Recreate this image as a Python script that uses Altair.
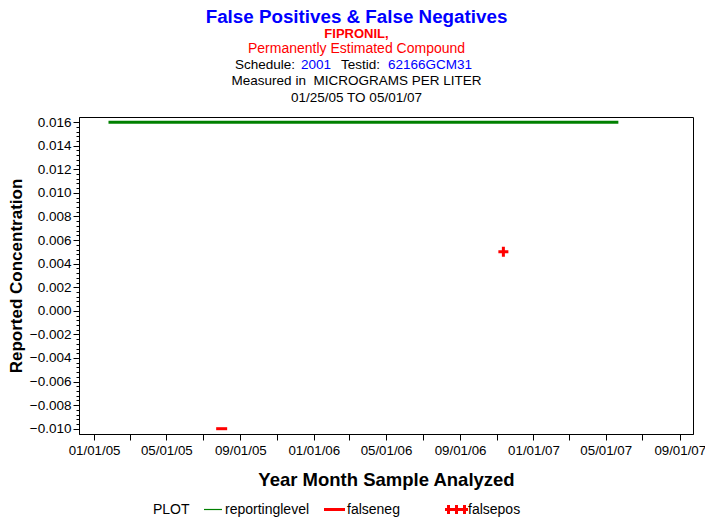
import altair as alt
import pandas as pd

# ---- data ----
ref_dates = ["2005-01-25", "2007-05-22"]
ref_values = [0.016, 0.016]
neg_dates = ["2005-08-01"]
neg_values = [-0.010]
pos_dates = ["2006-11-12"]
pos_values = [0.005]

x_tick_months = [(y, m) for y in (2005, 2006, 2007) for m in (1, 3, 5, 7, 9, 11) if (y, m) <= (2007, 9)]
y_tick_values = [round(-0.010 + i * 0.0004, 4) for i in range(66)]

FONT = "Liberation Sans"
W, H = 614, 317

df_ref = pd.DataFrame({"date": ref_dates, "value": ref_values})
df_neg = pd.DataFrame({"date": neg_dates, "value": neg_values})
df_pos = pd.DataFrame({"date": pos_dates, "value": pos_values})

xscale = alt.Scale(
    type="utc",
    nice=False,
    domain=[alt.DateTime(year=2004, month=12, date=7, utc=True),
            alt.DateTime(year=2007, month=9, date=23, utc=True)],
)
yscale = alt.Scale(domain=[-0.01045, 0.01644], nice=False, zero=False)

MAJOR = "abs(datum.value*500 - round(datum.value*500)) < 0.001"

xaxis = alt.Axis(
    values=[alt.DateTime(year=y, month=m, date=1, utc=True) for (y, m) in x_tick_months],
    tickCount=500,
    labelExpr="utcmonth(datum.value) % 4 == 0 ? utcFormat(datum.value, '%m/%d/%y') : ''",
    grid=False, tickSize=6, tickColor="black", domainColor="black",
    labelFont=FONT, labelFontSize=13.3, labelColor="black", labelPadding=3,
    labelFlush=False, labelOverlap=False,
    title="Year Month Sample Analyzed", titleFont=FONT, titleFontSize=18.5,
    titleFontWeight="bold", titleColor="black", titlePadding=14,
)
yaxis = alt.Axis(
    values=y_tick_values,
    tickCount=500,
    labelExpr=MAJOR + " ? format(datum.value, '.3f') : ''",
    grid=False,
    tickSize={"condition": {"test": MAJOR, "value": 6}, "value": 3},
    tickColor="black", domainColor="black",
    labelFont=FONT, labelFontSize=13.5, labelColor="black", labelPadding=2,
    labelOverlap=False, labelFlush=False,
    title="Reported Concentration", titleFont=FONT, titleFontSize=17,
    titleFontWeight="bold", titleColor="black", titlePadding=4,
)

ref_line = alt.Chart(df_ref).mark_line(color="#008000", strokeWidth=3).encode(
    x=alt.X("date:T", scale=xscale, axis=xaxis),
    y=alt.Y("value:Q", scale=yscale, axis=yaxis),
)
neg_mark = alt.Chart(df_neg).mark_point(
    shape="M-1,0L1,0", filled=False, color="#ff0000", strokeWidth=3, size=121, opacity=1
).encode(
    x=alt.X("date:T", scale=xscale),
    y=alt.Y("value:Q", scale=yscale),
)
pos_mark = alt.Chart(df_pos).mark_point(
    shape="M-1,0L1,0M0,-1L0,1", filled=False, color="#ff0000", strokeWidth=3, size=100, opacity=1
).encode(
    x=alt.X("date:T", scale=xscale),
    y=alt.Y("value:Q", scale=yscale),
)

ONE = alt.Data(values=[{"a": 1}])
OX, OY = 79, 117  # plot origin on page


def txt(s, x, y, size=13.5, color="black", weight="normal", align="center", baseline="alphabetic"):
    return alt.Chart(ONE).mark_text(
        font=FONT, fontSize=size, color=color, fontWeight=weight, align=align, baseline=baseline
    ).encode(x=alt.value(x - OX), y=alt.value(y - OY), text=alt.value(s))


def rule(x1, x2, y1, y2, color, width):
    return alt.Chart(ONE).mark_rule(color=color, strokeWidth=width).encode(
        x=alt.value(x1 - OX), x2=alt.value(x2 - OX), y=alt.value(y1 - OY), y2=alt.value(y2 - OY)
    )


CX = 356.5
NB = "\u00a0"
titles = [
    txt("False Positives & False Negatives", CX, 22.5, size=18.8, color="#0000ff", weight="bold"),
    txt("FIPRONIL,", CX, 38, size=13, color="#ff0000", weight="bold"),
    txt("Permanently Estimated Compound", CX, 53, size=14, color="#ff0000"),
    txt("Schedule:", 235, 69, align="left"),
    txt("2001", 301, 69, color="#0000ff", align="left"),
    txt("Testid:", 341, 69, align="left"),
    txt("62166GCM31", 388, 69, color="#0000ff", align="left"),
    txt("Measured in " + NB + "MICROGRAMS PER LITER", CX, 85),
    txt("01/25/05 TO 05/01/07", CX, 101.5),
]

LY = 509.5
legend = [
    txt("PLOT", 153, LY, size=14, align="left", baseline="middle"),
    rule(204, 222, LY, LY, "#008000", 1.2),
    txt("reportinglevel", 225, LY, size=14, align="left", baseline="middle"),
    rule(324, 345, LY, LY, "#ff0000", 3),
    txt("falseneg", 347, LY, size=14, align="left", baseline="middle"),
    rule(445, 468, LY, LY, "#ff0000", 3),
    rule(448.5, 448.5, LY - 4.5, LY + 4.5, "#ff0000", 3),
    rule(456.5, 456.5, LY - 4.5, LY + 4.5, "#ff0000", 3),
    rule(464.5, 464.5, LY - 4.5, LY + 4.5, "#ff0000", 3),
    txt("falsepos", 468, LY, size=14, align="left", baseline="middle"),
]

chart = alt.layer(ref_line, neg_mark, pos_mark, *titles, *legend).properties(
    width=W,
    height=H,
    autosize=alt.AutoSizeParams(type="none"),
    padding={"left": 71, "top": 109, "right": 12, "bottom": 86},
    background="white",
).configure_view(stroke="black", strokeWidth=1)

chart.save("out.html", embed_options={"renderer": "svg", "actions": False})
